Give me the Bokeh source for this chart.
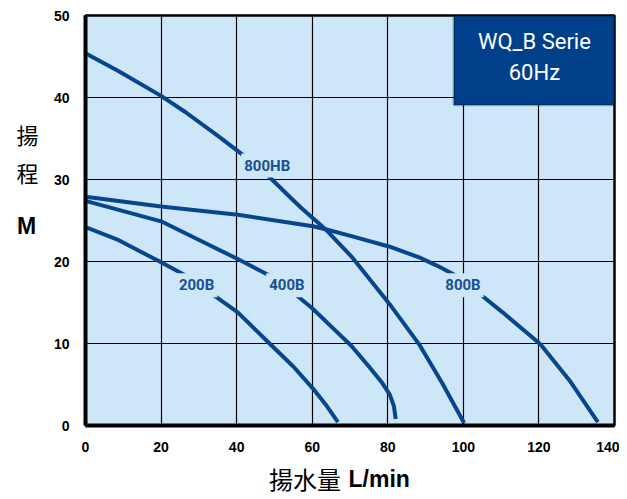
from bokeh.plotting import figure
from bokeh.models import Range1d, FixedTicker, BoxAnnotation, Label
from bokeh.layouts import row, column
from bokeh.core.properties import value
from bokeh.embed import file_html
from bokeh.resources import INLINE

# ---- data ----
x_ticks = [0, 20, 40, 60, 80, 100, 120, 140]
y_ticks = [0, 10, 20, 30, 40, 50]

hb800_x = [0, 8.8, 20, 26.5, 35.4, 42.5, 47.8, 54.9, 57.2, 63.8, 70.4, 80.5, 88.3, 94.5, 100.2]
hb800_y = [45.4, 43.2, 40.2, 38.2, 35.2, 32.7, 30.7, 27.5, 26.5, 23.8, 20.6, 14.8, 9.9, 5.1, 0.3]

b800_x = [0, 20, 40.3, 60.2, 63.8, 70.4, 80.5, 88.3, 93.0, 98.0, 104.2, 110.4, 120.4, 128.1, 135.6]
b800_y = [27.9, 26.7, 25.7, 24.3, 23.9, 23.1, 21.8, 20.5, 19.5, 18.3, 16.1, 13.8, 9.9, 5.5, 0.4]

b400_x = [0, 20, 31, 40.3, 48.7, 55.3, 60.0, 66.1, 70.4, 75.0, 78.5, 80.5, 81.6, 82.1]
b400_y = [27.4, 24.9, 22.4, 20.3, 18.3, 16.1, 14.3, 11.6, 9.7, 7.2, 5.2, 3.8, 2.4, 0.8]

b200_x = [0, 8.8, 20, 26.5, 32.7, 40.3, 48.7, 55.0, 60.2, 63.5, 66.8]
b200_y = [24.2, 22.6, 19.9, 18.3, 16.3, 13.8, 10.0, 7.2, 4.5, 2.6, 0.4]

curve_names = ["800HB", "800B", "400B", "200B"]
label_x = [48.1, 99.9, 53.3, 29.4]
label_y = [31.7, 17.1, 17.1, 17.1]

title_lines = ["WQ_B Serie", "60Hz"]
y_title_chars = ["揚", "程"]
y_title_unit = "M"
x_title_text = "揚水量"
x_title_unit = "L/min"

# ---- styles ----
BG = "#cde7f8"
LINE = "#07458c"
LBL = "#1a4f8f"
BOX = "#00408a"


def blank_fig(w, h):
    f = figure(width=w, height=h, output_backend="svg", toolbar_location=None,
               x_range=Range1d(0, w), y_range=Range1d(h, 0))
    f.min_border_left = 0
    f.min_border_right = 0
    f.min_border_top = 0
    f.min_border_bottom = 0
    f.axis.visible = False
    f.grid.visible = False
    f.outline_line_color = None
    f.background_fill_color = "white"
    f.border_fill_color = "white"
    return f


p = figure(width=569, height=455, output_backend="svg", toolbar_location=None,
           x_range=Range1d(0, 140), y_range=Range1d(0, 50))
p.min_border_left = 35
p.min_border_right = 5
p.min_border_top = 15
p.min_border_bottom = 30
p.background_fill_color = BG
p.border_fill_color = "white"
p.outline_line_color = "black"
p.outline_line_width = 2.5

for ax in (p.xaxis[0], p.yaxis[0]):
    ax.major_tick_line_color = None
    ax.minor_tick_line_color = None
    ax.axis_line_color = "black"
    ax.axis_line_width = 4
    ax.major_label_text_font = "Liberation Sans"
    ax.major_label_text_font_style = "bold"
    ax.major_label_text_font_size = "14px"
    ax.major_label_text_color = "black"

p.xaxis.ticker = FixedTicker(ticks=x_ticks)
p.yaxis.ticker = FixedTicker(ticks=y_ticks)
p.xaxis.major_label_standoff = 10
p.yaxis.major_label_standoff = 10

p.xgrid.ticker = FixedTicker(ticks=x_ticks)
p.ygrid.ticker = FixedTicker(ticks=y_ticks)
p.grid.grid_line_color = "black"
p.grid.grid_line_width = 1.2
p.grid.grid_line_alpha = 1.0

for xs, ys in [(hb800_x, hb800_y), (b800_x, b800_y), (b400_x, b400_y), (b200_x, b200_y)]:
    p.line(xs, ys, line_color=LINE, line_width=4, line_join="round")

p.text(x=label_x, y=label_y, text=curve_names, text_align="center",
       text_baseline="middle", text_color=LBL, text_font=value("Roboto"),
       text_font_style="bold", text_font_size="15px",
       background_fill_color=BG, padding=3)

# title box
p.add_layout(BoxAnnotation(left=97.5, right=140, bottom=39.1, top=50,
                           fill_color=BOX, fill_alpha=1.0,
                           line_color="black", line_width=2.5, level="overlay"))
for txt, yy in zip(title_lines, [46.8, 43.0]):
    p.add_layout(Label(x=118.8, y=yy, text=txt, text_align="center",
                       text_baseline="middle", text_color="white",
                       text_font="Roboto", text_font_size="22px", level="overlay"))

# y title (left strip)
yl = blank_fig(50, 455)
yl.text(x=[27, 27], y=[132, 174], text=y_title_chars, text_align="center",
        text_baseline="middle", text_color="black",
        text_font=value("Noto Sans CJK TC"), text_font_size="22px")
yl.text(x=[26], y=[234], text=[y_title_unit], text_align="center",
        text_baseline="middle", text_color="black",
        text_font=value("Liberation Sans"), text_font_style="bold",
        text_font_size="23px")

# x title (bottom strip)
xl = blank_fig(619, 44)
xl.text(x=[304.5], y=[23], text=[x_title_text], text_align="center",
        text_baseline="middle", text_color="black",
        text_font=value("Noto Sans CJK TC"), text_font_size="24px")
xl.text(x=[348], y=[23], text=[x_title_unit], text_align="left",
        text_baseline="middle", text_color="black",
        text_font=value("Liberation Sans"), text_font_style="bold",
        text_font_size="23px")

layout = column(row(yl, p, spacing=0), xl, spacing=0)

open("out.html", "w").write(file_html(layout, INLINE))
